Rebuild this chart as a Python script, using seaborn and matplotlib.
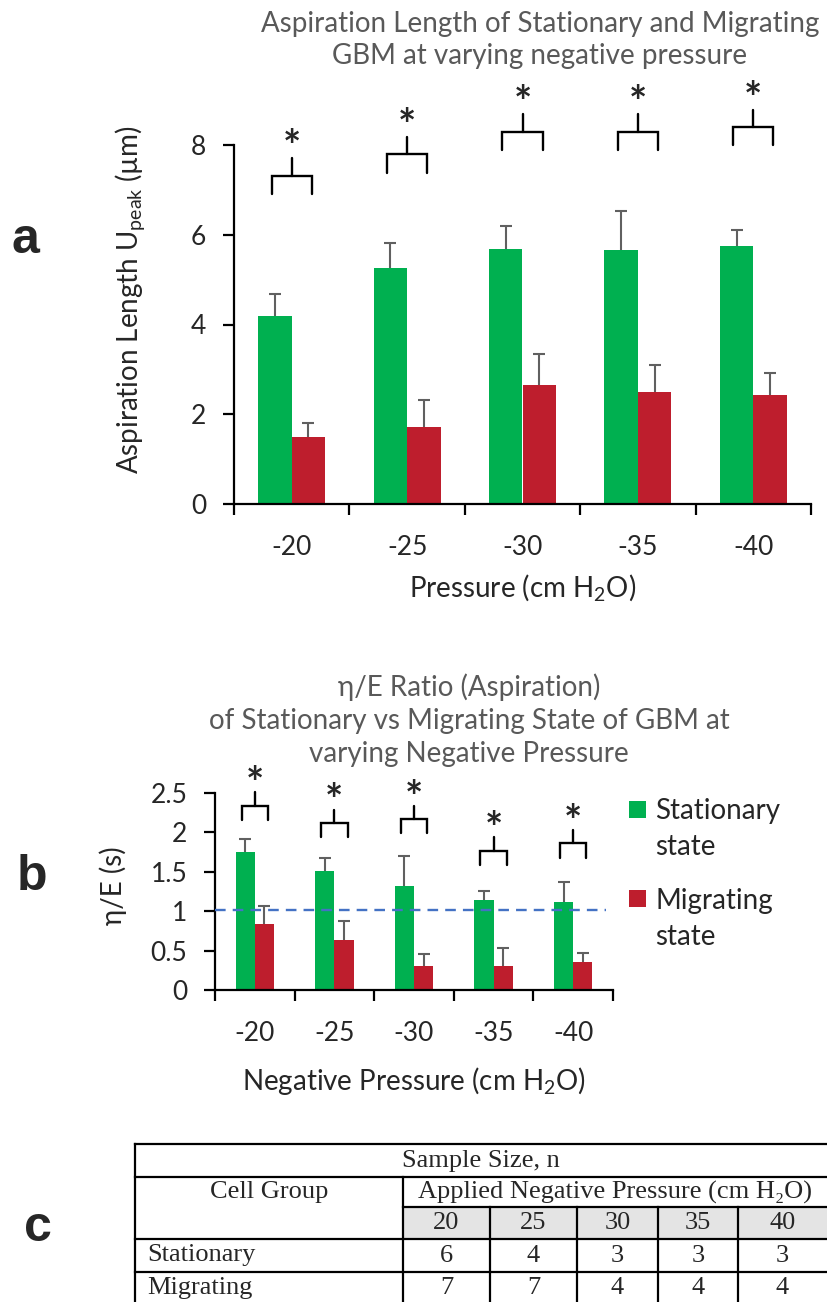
import pandas as pd
import matplotlib.pyplot as plt
from matplotlib.patches import Rectangle
import seaborn as sns

sns.set_theme(style="ticks")
plt.rcParams["font.family"] = ["Lato", "DejaVu Sans"]
plt.rcParams["mathtext.fontset"] = "custom"
plt.rcParams["mathtext.rm"] = "Lato"
plt.rcParams["mathtext.it"] = "Lato:italic"

# ---- data ----
pressures = ["-20", "-25", "-30", "-35", "-40"]
states = ["Stationary", "Migrating"]

# panel a: aspiration length (um)
a_stationary = [4.19, 5.27, 5.69, 5.67, 5.75]
a_stationary_err = [0.49, 0.55, 0.50, 0.85, 0.35]
a_migrating = [1.49, 1.72, 2.66, 2.50, 2.42]
a_migrating_err = [0.32, 0.59, 0.69, 0.59, 0.51]
a_bracket_y = [7.32, 7.79, 8.30, 8.30, 8.40]

# panel b: eta/E ratio (s)
b_stationary = [1.75, 1.51, 1.32, 1.14, 1.12]
b_stationary_err = [0.16, 0.16, 0.38, 0.12, 0.25]
b_migrating = [0.84, 0.63, 0.31, 0.30, 0.35]
b_migrating_err = [0.22, 0.24, 0.15, 0.23, 0.12]
b_bracket_y = [2.34, 2.12, 2.17, 1.77, 1.86]
b_reference = 1.02

# panel c: sample sizes
table_pressures = ["20", "25", "30", "35", "40"]
n_stationary = [6, 4, 3, 3, 3]
n_migrating = [7, 7, 4, 4, 4]

GREEN = "#00B050"
RED = "#BE1E2D"
GREY_TXT = "#595959"
ERR = "#606060"

W, H = 827, 1302


def fpx(x, y):
    return x / W, 1 - y / H


def long_df(stat, migr):
    return pd.DataFrame({
        "pressure": pressures * 2,
        "value": stat + migr,
        "state": [states[0]] * 5 + [states[1]] * 5,
    })


def draw_bars(ax, stat, migr, stat_err, migr_err, width, cap):
    sns.barplot(data=long_df(stat, migr), x="pressure", y="value", hue="state",
                hue_order=states, palette=[GREEN, RED], width=width, saturation=1,
                errorbar=None, linewidth=0, legend=False, ax=ax)
    for cont, err in zip(ax.containers[:2], [stat_err, migr_err]):
        xs = [b.get_x() + b.get_width() / 2 for b in cont]
        ys = [b.get_height() for b in cont]
        tops = [y + e for y, e in zip(ys, err)]
        ax.vlines(xs, ys, tops, color=ERR, lw=1.5, zorder=3)
        ax.plot(xs, tops, ls="none", marker="_", ms=cap, mew=1.5, color=ERR, zorder=3)


def style_axes(ax, ymax, yticks, fs, xpad):
    ax.set_xlim(-0.5, 4.5)
    ax.set_ylim(0, ymax)
    ax.set_yticks(yticks)
    sns.despine(ax=ax)
    for s in ["left", "bottom"]:
        ax.spines[s].set_linewidth(1.6)
        ax.spines[s].set_color("black")
    ax.set_xticks([i - 0.5 for i in range(6)], minor=True)
    ax.tick_params(axis="x", which="major", length=0, labelsize=fs, pad=xpad)
    ax.tick_params(axis="x", which="minor", length=8, width=1.6, direction="out", color="black")
    ax.tick_params(axis="y", length=8, width=1.6, direction="out", labelsize=fs,
                   color="black", pad=12)
    ax.set_facecolor("none")


def draw_brackets(ax, ys, leg, stem, star_off, half, fs):
    for i, y in enumerate(ys):
        ax.plot([i - half, i - half, i + half, i + half], [y - leg, y, y, y - leg],
                color="black", lw=1.7, clip_on=False, solid_joinstyle="miter")
        ax.plot([i, i], [y, y + stem], color="black", lw=1.7, clip_on=False)
        ax.text(i, y + stem + star_off, "*", ha="center", va="center",
                fontsize=fs, fontweight="bold", clip_on=False)


fig = plt.figure(figsize=(W / 100, H / 100), dpi=100)

# ---- panel a ----
x0, x1, y0, y1 = 234, 811, 504, 145
ax_a = fig.add_axes([x0 / W, 1 - y0 / H, (x1 - x0) / W, (y0 - y1) / H])
draw_bars(ax_a, a_stationary, a_migrating, a_stationary_err, a_migrating_err, 0.58, 9)
style_axes(ax_a, 8, [0, 2, 4, 6, 8], 19, 22)
draw_brackets(ax_a, a_bracket_y, 0.41, 0.39, 0.22, 0.175, 31)
ax_a.set_xlabel("Pressure (cm H$_2$O)", fontsize=20, labelpad=9)
ax_a.set_ylabel(r"Aspiration Length U$_{\mathrm{peak}}$ (µm)", fontsize=20)
ax_a.yaxis.set_label_coords(-0.151, 0.57)
fig.text(*fpx(540, 40), "Aspiration Length of Stationary and Migrating\nGBM at varying negative pressure",
         ha="center", va="center", fontsize=20, color=GREY_TXT, linespacing=1.3)

# ---- panel b ----
x0, x1, y0, y1 = 215, 613, 990, 793
ax_b = fig.add_axes([x0 / W, 1 - y0 / H, (x1 - x0) / W, (y0 - y1) / H])
draw_bars(ax_b, b_stationary, b_migrating, b_stationary_err, b_migrating_err, 0.48, 8)
style_axes(ax_b, 2.5, [0, 0.5, 1, 1.5, 2, 2.5], 19, 22)
ax_b.set_yticklabels(["0", "0.5", "1", "1.5", "2", "2.5"])
ax_b.axhline(b_reference, xmin=0, xmax=0.982, color="#4472C4", lw=1.7, ls=(0, (4.5, 3)), zorder=4)
draw_brackets(ax_b, b_bracket_y, 0.18, 0.17, 0.09, 0.165, 31)
ax_b.set_xlabel("Negative Pressure (cm H$_2$O)", fontsize=20, labelpad=14)
ax_b.set_ylabel("η/E (s)", fontsize=20)
ax_b.yaxis.set_label_coords(-0.221, 0.53)
fig.text(*fpx(469, 720), "η/E Ratio (Aspiration)\nof Stationary vs Migrating State of GBM at\nvarying Negative Pressure",
         ha="center", va="center", fontsize=20, color=GREY_TXT, linespacing=1.33)

# ---- overlay in pixel coordinates (legend of b, panel labels, table) ----
ax_c = fig.add_axes([0, 0, 1, 1])
ax_c.set_xlim(0, W)
ax_c.set_ylim(H, 0)
ax_c.axis("off")

for (sq_y, txt_y), col, lab in zip([(809, 829), (898, 919)], [GREEN, RED],
                                   ["Stationary\nstate", "Migrating\nstate"]):
    ax_c.add_patch(Rectangle((629, sq_y - 8.5), 17, 17, color=col, lw=0))
    ax_c.text(655, txt_y, lab, ha="left", va="center", fontsize=20, linespacing=1.45)

for lab, (px, py) in zip(["a", "b", "c"], [(25, 240), (32, 877), (38, 1228)]):
    ax_c.text(px, py, lab, ha="center", va="center", fontsize=36, fontweight="bold",
              family=["Liberation Sans", "DejaVu Sans"])

# ---- panel c: table ----
cols = [135, 403, 490, 577, 658, 738, 827]
rows = [1144, 1177, 1207, 1239, 1272, 1310]
tkw = dict(fontsize=19, family=["Liberation Serif", "DejaVu Serif"], va="center")
lkw = dict(color="black", lw=1.6, solid_capstyle="projecting")
ax_c.fill_between([cols[1], cols[-1]], rows[2], rows[3], color="#E4E4E4", lw=0)
for y, xs in [(rows[0], cols[0]), (rows[1], cols[0]), (rows[2], cols[1]),
              (rows[3], cols[0]), (rows[4], cols[0])]:
    ax_c.plot([xs, cols[-1]], [y, y], **lkw)
ax_c.plot([cols[0], cols[0]], [rows[0], rows[-1]], **lkw)
ax_c.plot([cols[1], cols[1]], [rows[1], rows[-1]], **lkw)
for cx in cols[2:-1]:
    ax_c.plot([cx, cx], [rows[2], rows[-1]], **lkw)
ax_c.text((cols[0] + cols[-1]) / 2, (rows[0] + rows[1]) / 2, "Sample Size, n", ha="center", **tkw)
ax_c.text((cols[0] + cols[1]) / 2, (rows[1] + rows[2]) / 2, "Cell Group", ha="center", **tkw)
ax_c.text((cols[1] + cols[-1]) / 2, (rows[1] + rows[2]) / 2, "Applied Negative Pressure (cm H₂O)",
          ha="center", **tkw)
mids = [(cols[i] + cols[i + 1]) / 2 for i in range(1, 6)]
for m, p, ns, nm in zip(mids, table_pressures, n_stationary, n_migrating):
    ax_c.text(m, (rows[2] + rows[3]) / 2, p, ha="center", **tkw)
    ax_c.text(m, (rows[3] + rows[4]) / 2, str(ns), ha="center", **tkw)
    ax_c.text(m, (rows[4] + rows[5]) / 2 - 3, str(nm), ha="center", **tkw)
ax_c.text(cols[0] + 12, (rows[3] + rows[4]) / 2, "Stationary", ha="left", **tkw)
ax_c.text(cols[0] + 12, (rows[4] + rows[5]) / 2 - 3, "Migrating", ha="left", **tkw)

fig.savefig("out.png", dpi=100)
